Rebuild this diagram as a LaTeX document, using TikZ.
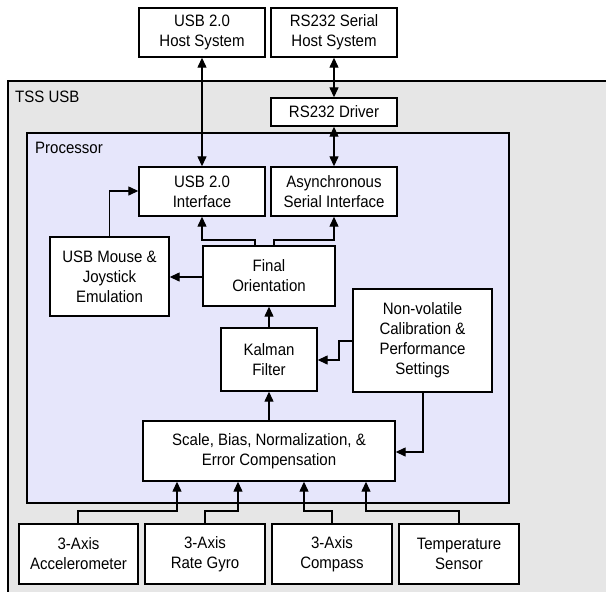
\documentclass[tikz,border=0pt]{standalone}
\usepackage{fontspec}
\setmainfont{Liberation Sans}[FakeStretch=0.91]
\usetikzlibrary{arrows.meta}
\definecolor{shell}{HTML}{E6E6E6}
\definecolor{cpu}{HTML}{E6E6FB}
\tikzset{
  blk/.style={draw=black, line width=1.4pt, fill=white, align=center,
    inner sep=0pt, font=\fontsize{16.5}{20}\selectfont},
  link/.style={line width=1.3pt, -{Triangle[length=10pt,width=9pt]}},
  duplex/.style={line width=1.3pt, {Triangle[length=10pt,width=9pt]}-{Triangle[length=10pt,width=9pt]}},
  lbl/.style={font=\fontsize{16.5}{20}\selectfont, anchor=west, inner sep=0pt}
}
% box from corner (x1,y1) to (x2,y2), y measured downward
\newcommand{\blkat}[6]{%
  \node[blk, minimum width={#4-#2}, minimum height={#5-#3}] (#1) at ({(#2+#4)/2},{(#3+#5)/2}) {#6};}
\begin{document}
\begin{tikzpicture}[x=1pt,y=-1pt]
\useasboundingbox (0,0) rectangle (606,592);
\begin{scope}
\clip (0,0) rectangle (606,592);
% enclosing device
\draw[line width=1.3pt, fill=shell] (8,81) rectangle (620,610);
\node[lbl] (tss) at (15,97) {TSS USB};
% processor area
\draw[line width=1.3pt, fill=cpu] (27,133) rectangle (509,503);
\node[lbl] (proc) at (35,148) {Processor};
\end{scope}

\blkat{usbhost}{139}{8}{265}{57}{USB 2.0\\Host System}
\blkat{rshost}{271}{8}{397}{57}{RS232 Serial\\Host System}
\blkat{rsdrv}{271}{98}{397}{126}{RS232 Driver}
\blkat{usbif}{139}{167}{265}{216}{USB 2.0\\Interface}
\blkat{asif}{271}{167}{397}{216}{Asynchronous\\Serial Interface}
\blkat{mouse}{50}{237}{169}{316}{USB Mouse \&\\Joystick\\Emulation}
\blkat{final}{203}{246}{335}{306}{Final\\Orientation}
\blkat{nvm}{353}{289}{492}{392}{Non-volatile\\Calibration \&\\Performance\\Settings}
\blkat{kalman}{221}{328}{317}{391}{Kalman\\Filter}
\blkat{scale}{143}{421}{395}{481}{Scale, Bias, Normalization, \&\\Error Compensation}
\blkat{accel}{19}{524}{138}{584}{3-Axis\\Accelerometer}
\blkat{gyro}{145}{524}{265}{584}{3-Axis\\Rate Gyro}
\blkat{compass}{272}{524}{392}{584}{3-Axis\\Compass}
\blkat{temp}{399}{524}{519}{584}{Temperature\\Sensor}

% host links
\draw[duplex] (usbhost.south) -- (usbif.north);
\draw[duplex] (rshost.south) -- (rsdrv.north);
\draw[duplex] (rsdrv.south) -- (asif.north);

% processor internals
\draw[link] (mouse.north) |- (usbif.west |- 0,191);
\draw[link] (final.north -| 255,0) |- (202,240) -- (usbif.south);
\draw[link] (final.north -| 274,0) |- (334,240) -- (asif.south);
\draw[link] (final.west |- 0,277) -- (mouse.east |- 0,277);
\draw[link] (kalman.north -| 269,0) -- (final.south -| 269,0);
\draw[link] (scale.north -| 269,0) -- (kalman.south -| 269,0);
\draw[link] (nvm.west |- 0,341) -- (339,341) |- (kalman.east |- 0,360);
\draw[link] (nvm.south -| 423,0) |- (scale.east |- 0,452);

% sensor inputs
\draw[link] (accel.north -| 78,0) |- (177,511) -- (scale.south -| 177,0);
\draw[link] (gyro.north -| 205,0) |- (238,511) -- (scale.south -| 238,0);
\draw[link] (compass.north -| 332,0) |- (304,511) -- (scale.south -| 304,0);
\draw[link] (temp.north -| 459,0) |- (366,511) -- (scale.south -| 366,0);
\end{tikzpicture}
\end{document}
